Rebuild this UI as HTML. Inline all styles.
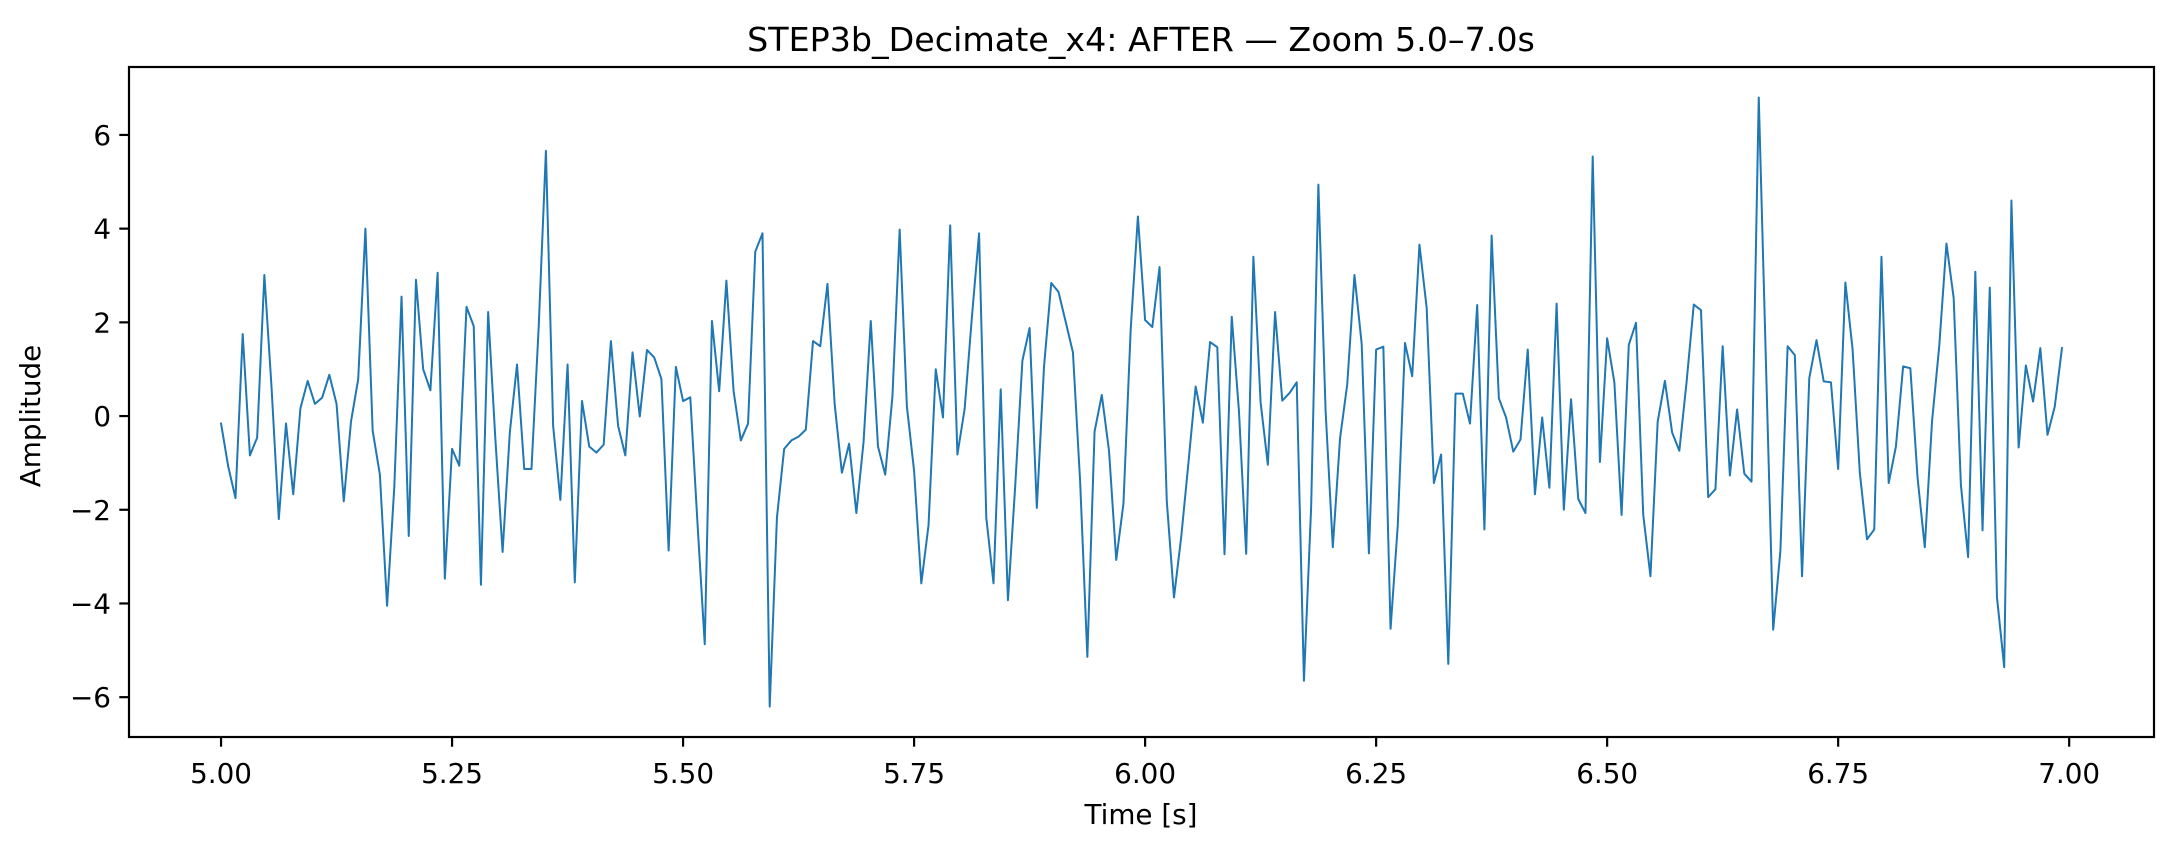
<!DOCTYPE html>
<html>
<head>
<meta charset="utf-8">
<style>
  html, body { margin: 0; padding: 0; background: #fff; }
  svg { display: block; font-family: "DejaVu Sans", "Liberation Sans", sans-serif; }
</style>
</head>
<body>
<svg id="chart" width="2175" height="852" viewBox="0 0 2175 852" xmlns="http://www.w3.org/2000/svg">
  <rect x="0" y="0" width="2175" height="852" fill="#ffffff"/>
  <text x="1141" y="51" font-size="33.3" text-anchor="middle" fill="#000">STEP3b_Decimate_x4: AFTER — Zoom 5.0–7.0s</text>
  <g id="xticks"></g>
  <g id="yticks"></g>
  <path id="series" fill="none" stroke="#1f77b4" stroke-width="2" stroke-linejoin="round" stroke-linecap="square"/>
  <rect x="129" y="67" width="2025" height="670" fill="none" stroke="#000" stroke-width="2.2"/>
  <text x="1141" y="824" font-size="27.8" text-anchor="middle" fill="#000">Time [s]</text>
  <text x="0" y="0" font-size="27.8" text-anchor="middle" fill="#000" transform="translate(40,416) rotate(-90)">Amplitude</text>
</svg>
<script>
const startTime = 5.0;
const sampleRate = 128;
const amplitudes = [
-0.16,-1.08,-1.75,1.75,-0.84,-0.46,3.01,0.6,-2.2,-0.16,
-1.67,0.17,0.75,0.26,0.39,0.88,0.26,-1.82,-0.12,0.79,
4.0,-0.31,-1.25,-4.05,-1.51,2.55,-2.56,2.91,1.0,0.55,
3.06,-3.47,-0.70,-1.06,2.33,1.92,-3.6,2.22,-0.5,-2.9,
-0.35,1.1,-1.13,-1.13,1.9,5.66,-0.21,-1.79,1.1,-3.55,
0.32,-0.65,-0.78,-0.61,1.60,-0.21,-0.84,1.36,-0.01,1.41,
1.25,0.79,-2.87,1.05,0.32,0.40,-2.3,-4.87,2.03,0.53,
2.89,0.53,-0.52,-0.16,3.51,3.9,-6.2,-2.17,-0.70,-0.52,
-0.44,-0.29,1.60,1.49,2.82,0.25,-1.21,-0.59,-2.07,-0.55,
2.03,-0.65,-1.25,0.42,3.98,0.21,-1.17,-3.57,-2.33,1.0,
-0.03,4.07,-0.82,0.15,2.1,3.9,-2.17,-3.57,0.57,-3.93,
-1.51,1.18,1.88,-1.96,1.06,2.84,2.65,2.01,1.36,-1.4,
-5.14,-0.33,0.45,-0.74,-3.07,-1.87,1.84,4.26,2.05,1.9,
3.18,-1.81,-3.87,-2.58,-1.0,0.63,-0.14,1.58,1.47,-2.95,
2.12,0.1,-2.94,3.40,0.29,-1.04,2.22,0.33,0.49,0.72,
-5.65,-1.94,4.94,0.12,-2.8,-0.48,0.68,3.01,1.54,-2.93,
1.42,1.48,-4.54,-2.33,1.56,0.85,3.66,2.31,-1.43,-0.82,
-5.29,0.48,0.48,-0.16,2.37,-2.42,3.85,0.38,-0.03,-0.76,
-0.50,1.42,-1.67,-0.03,-1.53,2.40,-2.00,0.36,-1.77,-2.07,
5.54,-0.98,1.66,0.72,-2.11,1.52,1.99,-2.11,-3.42,-0.12,
0.75,-0.35,-0.74,0.72,2.38,2.26,-1.73,-1.56,1.49,-1.27,
0.14,-1.23,-1.40,6.80,1.12,-4.56,-2.88,1.49,1.30,-3.42,
0.81,1.62,0.74,0.72,-1.13,2.85,1.42,-1.21,-2.63,-2.42,
3.40,-1.43,-0.65,1.06,1.02,-1.32,-2.8,-0.12,1.49,3.68,
2.52,-1.47,-3.01,3.08,-2.44,2.74,-3.87,-5.36,4.60,-0.67,
1.08,0.31,1.45,-0.4,0.2,1.45
];
const xTickValues = [5.00, 5.25, 5.50, 5.75, 6.00, 6.25, 6.50, 6.75, 7.00];
const xTickLabels = ["5.00","5.25","5.50","5.75","6.00","6.25","6.50","6.75","7.00"];
const yTickValues = [-6, -4, -2, 0, 2, 4, 6];
const yTickLabels = ["\u22126","\u22124","\u22122","0","2","4","6"];

const NS = "http://www.w3.org/2000/svg";
const plot = { left: 129, right: 2154, top: 67, bottom: 737 };
const times = amplitudes.map((v, i) => startTime + i / sampleRate);
const tMin = Math.min(...times), tMax = Math.max(...times);
const vMin = Math.min(...amplitudes), vMax = Math.max(...amplitudes);
const xPad = (tMax - tMin) * 0.05, yPad = (vMax - vMin) * 0.05;
const x0 = tMin - xPad, x1 = tMax + xPad, y0 = vMin - yPad, y1 = vMax + yPad;
function xScale(t) { return plot.left + (t - x0) / (x1 - x0) * (plot.right - plot.left); }
function yScale(v) { return plot.bottom - (v - y0) / (y1 - y0) * (plot.bottom - plot.top); }

let d = "";
amplitudes.forEach((v, i) => {
  d += (i ? "L" : "M") + xScale(times[i]).toFixed(2) + "," + yScale(v).toFixed(2);
});
document.getElementById("series").setAttribute("d", d);

const xg = document.getElementById("xticks");
xTickValues.forEach((t, i) => {
  const x = xScale(t);
  const ln = document.createElementNS(NS, "line");
  
  
  ln.setAttribute("x1", x); ln.setAttribute("x2", x);
  ln.setAttribute("y1", plot.bottom); ln.setAttribute("y2", plot.bottom + 9.7);
  ln.setAttribute("stroke", "#000"); ln.setAttribute("stroke-width", "2.2");
  xg.appendChild(ln);
  const tx = document.createElementNS(NS, "text");
  
  
  tx.setAttribute("x", x); tx.setAttribute("y", plot.bottom + 46);
  tx.setAttribute("font-size", "27.8"); tx.setAttribute("text-anchor", "middle");
  tx.textContent = xTickLabels[i];
  xg.appendChild(tx);
});

const yg = document.getElementById("yticks");
yTickValues.forEach((v, i) => {
  const y = yScale(v);
  const ln = document.createElementNS(NS, "line");
  
  
  ln.setAttribute("x1", plot.left - 9.7); ln.setAttribute("x2", plot.left);
  ln.setAttribute("y1", y); ln.setAttribute("y2", y);
  ln.setAttribute("stroke", "#000"); ln.setAttribute("stroke-width", "2.2");
  yg.appendChild(ln);
  const tx = document.createElementNS(NS, "text");
  
  
  tx.setAttribute("x", plot.left - 18); tx.setAttribute("y", y + 10);
  tx.setAttribute("font-size", "27.8"); tx.setAttribute("text-anchor", "end");
  tx.textContent = yTickLabels[i];
  yg.appendChild(tx);
});
</script>
</body>
</html>
